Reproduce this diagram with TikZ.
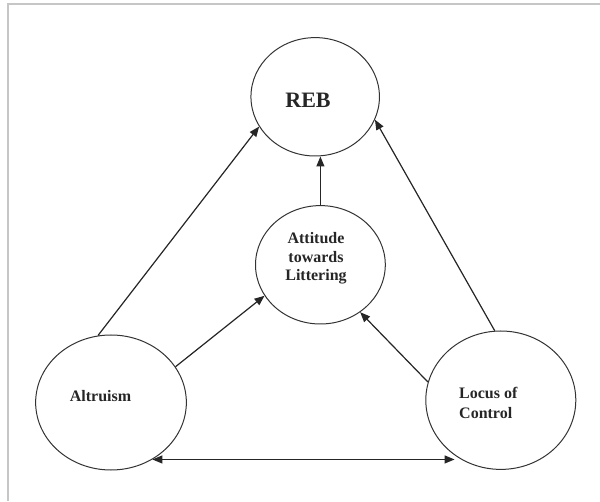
\documentclass[tikz,border=0pt]{standalone}
\usepackage{fontspec}
\setmainfont{Liberation Serif}
\usetikzlibrary{shapes.geometric,arrows.meta}
\begin{document}
\begin{tikzpicture}[x=1pt,y=1pt,
  ell/.style={ellipse, draw=black!80, line width=1pt, inner sep=0pt},
  lbl/.style={font=\bfseries\fontsize{16}{18.3}\selectfont, text=black!85, inner sep=0pt},
  arr/.style={-{Triangle[length=10pt,width=8pt]}, line width=1.2pt, draw=black!85, fill=black!85},
  darr/.style={{Triangle[length=10pt,width=8pt]}-{Triangle[length=10pt,width=8pt]}, line width=1.2pt, draw=black!85, fill=black!85}]
\useasboundingbox (0,0) rectangle (600,501);
\draw[line width=2pt, draw=gray!45] (7.5,0) -- (7.5,496.7) -- (600,496.7);

\node[ell, minimum width=128.5pt, minimum height=118.4pt] (reb) at (315.2,404.2) {};
\node[ell, minimum width=129.8pt, minimum height=118.4pt] (att) at (320.4,236.2) {};
\node[ell, minimum width=150.7pt, minimum height=135pt] (alt) at (111,98.5) {};
\node[ell, minimum width=150pt, minimum height=138.4pt] (loc) at (500.8,100.8) {};

\node[lbl, font=\bfseries\fontsize{22}{24}\selectfont] (trEB) at (308,401) {REB};
\node[lbl, align=center] (tatt) at (316,242.7) {Attitude\\towards\\Littering};
\node[lbl] (talt) at (100.5,105.3) {Altruism};
\node[lbl, align=left, anchor=west, font=\bfseries\fontsize{16}{20}\selectfont] (tloc) at (459,97.7) {Locus of\\Control};

\draw[arr] (alt.101) -- (reb.208.6);
\draw[arr] (alt.29.5) -- (att.209);
\draw[arr] (att.north) -- (att.north |- reb.south);
\draw[arr] (loc.166.8) -- (att.310.9);
\draw[arr] (loc.95.2) -- (reb.339.7);
\coordinate (dl) at (alt.306.7);
\coordinate (dr) at (loc.230.3 |- dl);
\draw[darr] (dl) -- (dr);
\end{tikzpicture}
\end{document}
